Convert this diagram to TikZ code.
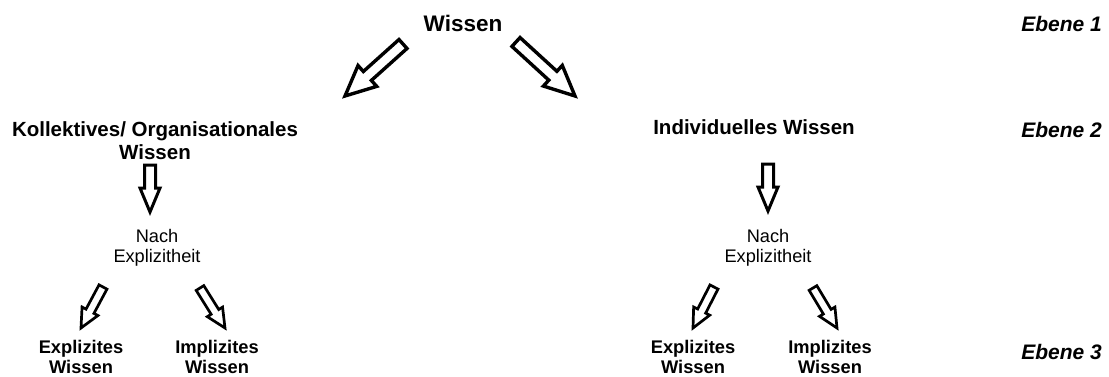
\documentclass[tikz,border=0pt]{standalone}
\usepackage{fontspec}
\setmainfont{Liberation Sans}
\usetikzlibrary{calc}

% hollow block arrow: style, from, to, shaft half width, head half width, head length (pt)
\newcommand\hollowarrow[6]{%
  \path let \p1=($(#3)-(#2)$) in
    \pgfextra{\pgfmathsetmacro\tmpang{atan2(\y1,\x1)}\xdef\harang{\tmpang}%
              \pgfmathsetmacro\tmplen{veclen(\x1,\y1)}\xdef\harlen{\tmplen}};
  \begin{scope}[shift={(#2)},rotate=\harang]
    \draw[#1] (0pt,-#4pt) -- ({\harlen pt-#6pt},-#4pt) -- ({\harlen pt-#6pt},-#5pt)
      -- (\harlen pt,0pt) -- ({\harlen pt-#6pt},#5pt) -- ({\harlen pt-#6pt},#4pt)
      -- (0pt,#4pt) -- cycle;
  \end{scope}}

\tikzset{
  topnode/.style={font=\bfseries\fontsize{22.5}{25}\selectfont, align=center, inner sep=0pt},
  catnode/.style={font=\bfseries\fontsize{20.5}{23}\selectfont, align=center, inner sep=0pt},
  critnode/.style={font=\fontsize{18.2}{20.5}\selectfont, align=center, inner sep=0pt},
  leafnode/.style={font=\bfseries\fontsize{18.3}{20}\selectfont, align=center, inner sep=0pt},
  ebenelabel/.style={font=\bfseries\itshape\fontsize{21}{23}\selectfont, anchor=east, inner sep=0pt},
  bigarrow/.style={draw=black, fill=white, line width=3.4pt, line join=miter, miter limit=6},
  midarrow/.style={draw=black, fill=white, line width=3pt, line join=miter, miter limit=6},
  smallarrow/.style={draw=black, fill=white, line width=2.7pt, line join=miter, miter limit=6},
}

\begin{document}
\begin{tikzpicture}[x=1pt,y=-1pt]
  \useasboundingbox (0,0) rectangle (1109,376);

  % level labels
  \node[ebenelabel] (e1) at (1102,23.5) {Ebene 1};
  \node[ebenelabel] (e2) at (1102,129.5) {Ebene 2};
  \node[ebenelabel] (e3) at (1102,352) {Ebene 3};

  % knowledge tree
  \node[topnode] (wissen) at (463,23) {Wissen};
  \node[catnode] (koll) at (155,141) {Kollektives/ Organisationales\\Wissen};
  \node[catnode] (indiv) at (754,127) {Individuelles Wissen};

  \node[critnode] (nachL) at (157,248) {Nach\\Explizitheit};
  \node[critnode] (nachR) at (768,248) {Nach\\Explizitheit};

  \node[leafnode] (explL) at (81,356.5) {Explizites\\Wissen};
  \node[leafnode] (implL) at (217,356.5) {Implizites\\Wissen};
  \node[leafnode] (explR) at (693,357) {Explizites\\Wissen};
  \node[leafnode] (implR) at (830,357) {Implizites\\Wissen};

  % arrow end points
  \coordinate (aLs) at (403,44);   \coordinate (aLe) at (345,96);
  \coordinate (aRs) at (516,42);   \coordinate (aRe) at (575,96);
  \coordinate (vLs) at (150,165);  \coordinate (vLe) at (150,212);
  \coordinate (vRs) at (768,164);  \coordinate (vRe) at (768,211);
  \coordinate (sLLs) at (103,287); \coordinate (sLLe) at (81,328);
  \coordinate (sLRs) at (200,288); \coordinate (sLRe) at (225,328);
  \coordinate (sRLs) at (714,287); \coordinate (sRLe) at (693,328);
  \coordinate (sRRs) at (813,288); \coordinate (sRRe) at (837,328);

  % arrows
  \hollowarrow{bigarrow}{aLs}{aLe}{6}{14}{30}
  \hollowarrow{bigarrow}{aRs}{aRe}{6}{14}{30}
  \hollowarrow{midarrow}{vLs}{vLe}{5.5}{10}{24}
  \hollowarrow{midarrow}{vRs}{vRe}{5.5}{10}{24}
  \hollowarrow{smallarrow}{sLLs}{sLLe}{4.5}{9}{19}
  \hollowarrow{smallarrow}{sLRs}{sLRe}{4.5}{9}{19}
  \hollowarrow{smallarrow}{sRLs}{sRLe}{4.5}{9}{19}
  \hollowarrow{smallarrow}{sRRs}{sRRe}{4.5}{9}{19}
\end{tikzpicture}
\end{document}
